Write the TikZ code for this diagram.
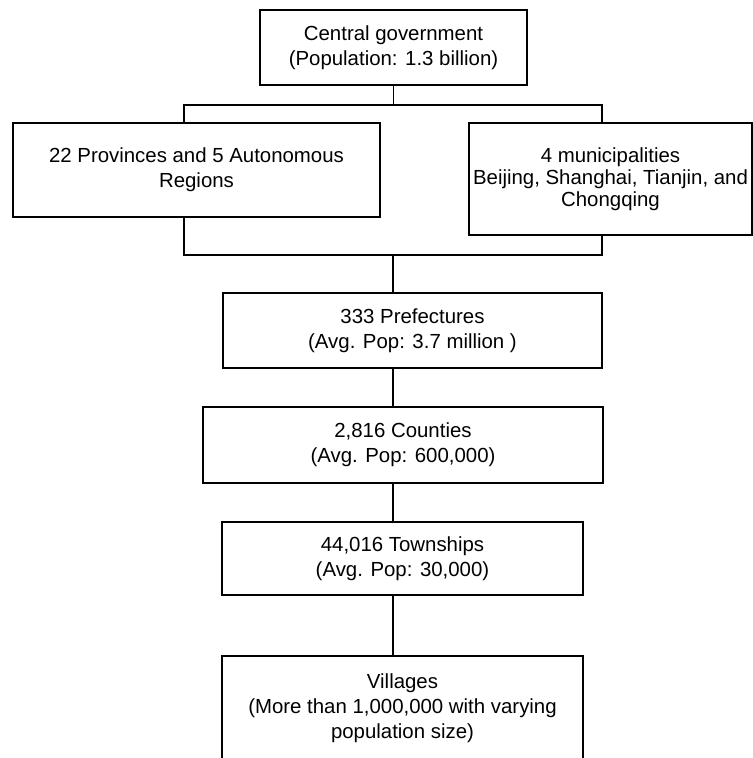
\documentclass[tikz,border=0pt]{standalone}
\usepackage{fontspec}
\setmainfont{Liberation Sans}
\usetikzlibrary{calc, positioning}

\tikzset{
	tier/.style={draw, line width=1.3pt, inner sep=0pt, align=center, font=\fontsize{15.3}{18.75}\selectfont},
	link/.style={line width=0.9pt},
}

\begin{document}
\begin{tikzpicture}[x=0.75pt,y=0.75pt,yscale=-1,xscale=1]
	%set diagram to 753 x 758
	\useasboundingbox (0,0) rectangle (753,758);
	\clip (0,0) rectangle (753,758);

	% Tier boxes
	\node [tier, minimum width=200.25pt, minimum height=56.25pt] (gov) at (393.5,47.5) {Central government\\(Population: 1.3 billion)};
	\node [tier, minimum width=275.25pt, minimum height=70.5pt] (prov) at (196.5,170) {22 Provinces and 5 Autonomous\\Regions};
	\node [tier, minimum width=212.25pt, minimum height=84pt, font=\fontsize{15.3}{16.6}\selectfont] (muni) at (610.5,179) {4 municipalities\\Beijing, Shanghai, Tianjin, and\\Chongqing};
	\node [tier, minimum width=284.25pt, minimum height=56.25pt] (pref) at (412.5,330.5) {333 Prefectures\\(Avg. Pop: 3.7 million )};
	\node [tier, minimum width=300pt, minimum height=57pt] (cnty) at (403,445) {2,816 Counties\\(Avg. Pop: 600,000)};
	\node [tier, minimum width=270.75pt, minimum height=54.75pt] (town) at (402.5,558.5) {44,016 Townships\\(Avg. Pop: 30,000)};
	% open at the foot of the page
	\node [tier, minimum width=270.75pt, minimum height=78pt] (vill) at (402.5,708) {Villages\\(More than 1,000,000 with varying\\population size)};

	% Bar ends
	\coordinate (spine) at (393,0);
	\coordinate (lbar) at (184,105);
	\coordinate (rbar) at (602,105);
	\coordinate (lfoot) at (184,255);
	\coordinate (rfoot) at (602,255);

	% Connectors
	\draw [link] (gov.south) -- (gov.south |- lbar);
	\draw [link] (prov.north -| lbar) -- (lbar) -- (rbar) -- (muni.north -| rbar);
	\draw [link] (prov.south -| lfoot) -- (lfoot) -- (rfoot) -- (muni.south -| rfoot);
	\draw [link] (spine |- lfoot) -- (spine |- pref.north);
	\draw [link] (spine |- pref.south) -- (spine |- cnty.north);
	\draw [link] (spine |- cnty.south) -- (spine |- town.north);
	\draw [link, line width=1.6pt] (spine |- town.south) -- (spine |- vill.north);

\end{tikzpicture}
\end{document}
